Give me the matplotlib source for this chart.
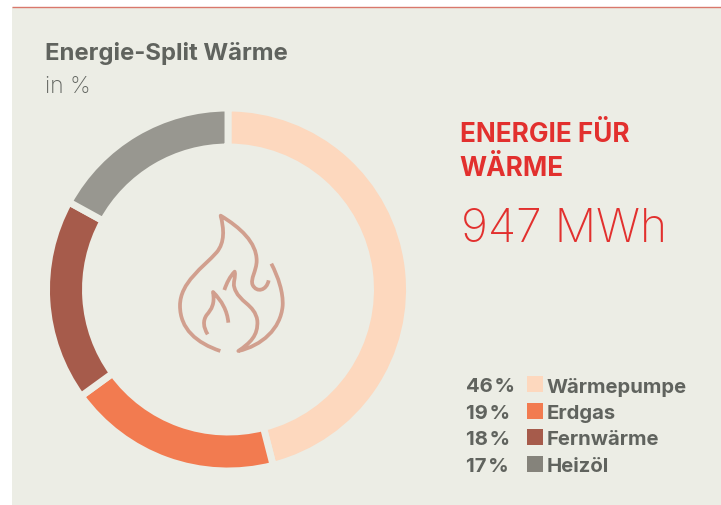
import matplotlib
matplotlib.use("Agg")
import matplotlib.pyplot as plt
from matplotlib.patches import Rectangle, PathPatch
from matplotlib.path import Path

W, H = 721, 506
categories = ["Wärmepumpe", "Erdgas", "Fernwärme", "Heizöl"]
values = [46, 19, 18, 17]
value_labels = ["46\u200a%", "19\u200a%", "18\u200a%", "17\u200a%"]
donut_colors = ["#FDD8BE", "#F27B50", "#A65B4B", "#989790"]
legend_colors = ["#FDD8BE", "#F27B50", "#A65B4B", "#85837B"]
BG, TXT, RED = "#ECEDE5", "#60635E", "#E2302E"
FLAME = "#D19F8E"
FONT = ["Inter", "DejaVu Sans"]

fig = plt.figure(figsize=(W / 100, H / 100), dpi=100, facecolor="white")
ov = fig.add_axes([0, 0, 1, 1], zorder=1)
ov.set_xlim(0, W); ov.set_ylim(H, 0); ov.axis("off")
ov.add_patch(Rectangle((12, 8), W - 12, H - 8, fc=BG, ec="none"))
ov.plot([12, W], [8, 8], color="#D9786C", lw=1.0, solid_capstyle="butt")

cx, cy, r = 228, 290.5, 181.5
ax = fig.add_axes([(cx - r) / W, 1 - (cy + r) / H, 2 * r / W, 2 * r / H], zorder=2)
ax.pie(values, colors=donut_colors, startangle=90, counterclock=False, radius=1.0,
       wedgeprops=dict(width=39 / r, edgecolor=BG, linewidth=5))
ax.set_xlim(-1, 1); ax.set_ylim(-1, 1); ax.axis("off")
ax.patch.set_alpha(0)

ov2 = fig.add_axes([0, 0, 1, 1], zorder=3)
ov2.set_xlim(0, W); ov2.set_ylim(H, 0); ov2.axis("off"); ov2.patch.set_alpha(0)

def z(p):
    return (150 + p[0] / 3, 190 + p[1] / 3)

def flame(segs):
    verts, codes = [z(segs[0])], [Path.MOVETO]
    for c1, c2, e in segs[1:]:
        verts += [z(c1), z(c2), z(e)]
        codes += [Path.CURVE4] * 3
    ov2.add_patch(PathPatch(Path(verts, codes), fc="none", ec=FLAME, lw=2.7,
                            capstyle="butt", joinstyle="round"))

flame([(211, 486),
       ((140, 462), (90, 420), (90, 350)),
       ((90, 280), (160, 235), (200, 190)),
       ((225, 160), (222, 120), (212, 80)),
       ((270, 115), (320, 160), (320, 215)),
       ((320, 245), (300, 270), (308, 288)),
       ((320, 312), (350, 305), (356, 274))])
flame([(364, 224),
       ((385, 265), (400, 310), (398, 350)),
       ((392, 420), (335, 470), (265, 486)),
       ((300, 462), (325, 440), (322, 395)),
       ((315, 345), (265, 340), (253, 295)),
       ((248, 280), (258, 265), (254, 248)),
       ((240, 262), (230, 282), (223, 303))])
flame([(173, 436),
       ((160, 415), (158, 395), (170, 378)),
       ((185, 360), (195, 345), (189, 309)),
       ((215, 335), (232, 365), (235, 401))])

ov2.text(45, 53, "Energie-Split Wärme", fontsize=17.2, fontweight="bold", color=TXT,
         family=FONT, va="center", ha="left")
ov2.text(45, 87, "in %", fontsize=16.5, color=TXT, family=FONT, va="center", ha="left",
         fontweight="light")
ov2.text(460, 135, "ENERGIE FÜR", fontsize=18.8, fontweight="bold", color=RED, family=FONT, va="center")
ov2.text(459, 168.5, "WÄRME", fontsize=18.8, fontweight="bold", color=RED, family=FONT, va="center")
ov2.text(461, 230, "947 MWh", fontsize=33.3, color=RED, family=FONT, va="center", fontweight="light")

ys = [386, 413, 439, 466]
for y, lab, cat, col in zip(ys, value_labels, categories, legend_colors):
    ov2.text(466, y + 1.5, lab, fontsize=14.6, fontweight="bold", color=TXT, family=FONT, va="center")
    ov2.add_patch(Rectangle((527, y - 9), 16, 16, fc=col, ec="none"))
    ov2.text(547, y + 1.5, cat, fontsize=14.6, fontweight="bold", color=TXT, family=FONT, va="center")

fig.savefig("out.png", dpi=100)
